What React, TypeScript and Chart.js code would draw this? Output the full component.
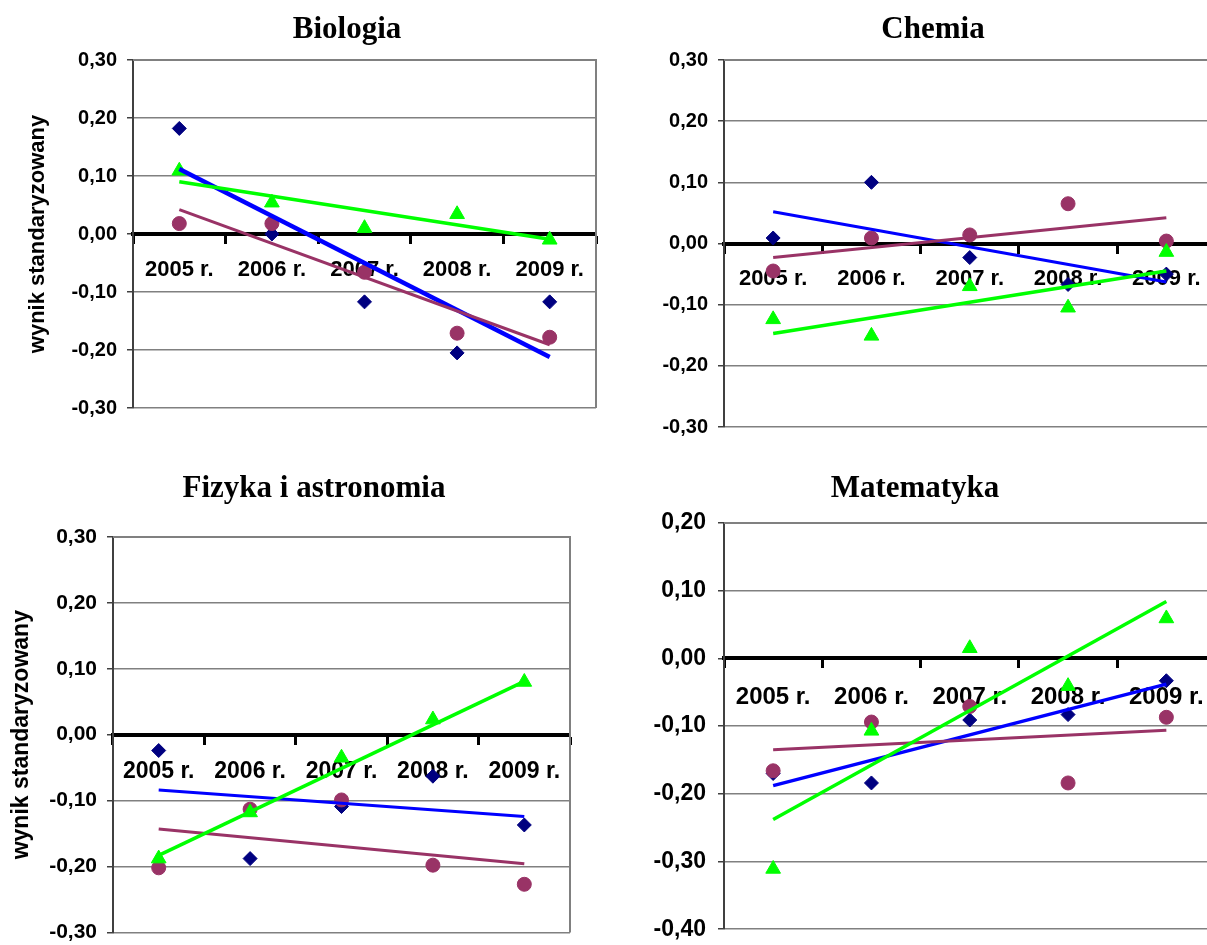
import React, { useEffect, useRef } from 'react';
import { Chart, registerables } from 'chart.js';

Chart.register(...registerables);

// ---------- data ----------
const years = ['2005 r.', '2006 r.', '2007 r.', '2008 r.', '2009 r.'];
const yAxisTitle = 'wynik standaryzowany';

// Biologia
const bioNavy = [0.182, 0.0, -0.117, -0.205, -0.117];
const bioPurple = [0.018, 0.018, -0.066, -0.171, -0.178];
const bioGreen = [0.109, 0.054, 0.01, 0.034, -0.01];
const bioTrendBlue = [0.112, -0.212]; // 2005, 2009
const bioTrendPurple = [0.042, -0.191];
const bioTrendGreen = [0.09, -0.009];

// Chemia
const chemNavy = [0.009, 0.1, -0.023, -0.067, -0.05];
const chemPurple = [-0.045, 0.009, 0.014, 0.065, 0.004];
const chemGreen = [-0.124, -0.151, -0.07, -0.105, -0.014];
const chemTrendBlue = [0.052, -0.063];
const chemTrendPurple = [-0.023, 0.042];
const chemTrendGreen = [-0.147, -0.045];

// Fizyka i astronomia
const fizNavy = [-0.024, -0.188, -0.109, -0.063, -0.137];
const fizPurple = [-0.202, -0.113, -0.099, -0.198, -0.227];
const fizGreen = [-0.188, -0.118, -0.035, 0.023, 0.08];
const fizTrendBlue = [-0.084, -0.124];
const fizTrendPurple = [-0.143, -0.196];
const fizTrendGreen = [-0.183, 0.081];

// Matematyka
const matNavy = [-0.17, -0.184, -0.091, -0.083, -0.033];
const matPurple = [-0.166, -0.094, -0.071, -0.184, -0.087];
const matGreen = [-0.311, -0.107, 0.015, -0.041, 0.059];
const matTrendBlue = [-0.188, -0.038];
const matTrendPurple = [-0.135, -0.106];
const matTrendGreen = [-0.238, 0.084];

// ---------- styling ----------
const NAVY = '#000080';
const PURPLE = '#993366';
const GREEN = '#00FF00';
const BLUE = '#0000FF';
const SANS = "'Liberation Sans', Arial, sans-serif";
const SERIF = "'Liberation Serif', 'Times New Roman', serif";

const fmt = (v: any) => {
  const n = Number(v);
  const r = Math.abs(n) < 1e-9 ? 0 : n;
  return r.toFixed(2).replace('.', ',');
};

const trend = (t: number[]) => [t[0], null, null, null, t[1]];

const titlePlugin = {
  id: 'panelTitle',
  afterDraw(chart: any, _args: any, opts: any) {
    if (!opts || !opts.text) return;
    const ctx = chart.ctx;
    ctx.save();
    ctx.font = `bold ${opts.size}px ${SERIF}`;
    ctx.fillStyle = '#000';
    ctx.textAlign = 'center';
    ctx.textBaseline = 'alphabetic';
    ctx.fillText(opts.text, opts.x, opts.y);
    ctx.restore();
  },
};

const framePlugin = {
  id: 'plotFrame',
  beforeDatasetsDraw(chart: any) {
    const { ctx, chartArea } = chart;
    ctx.save();
    ctx.strokeStyle = '#808080';
    ctx.lineWidth = 2;
    ctx.beginPath();
    ctx.moveTo(chartArea.left, chartArea.top);
    ctx.lineTo(chartArea.right, chartArea.top);
    ctx.lineTo(chartArea.right, chartArea.bottom);
    ctx.stroke();
    ctx.restore();
  },
};

interface PanelProps {
  title: string;
  titleX: number;
  titleY: number;
  navy: number[];
  purple: number[];
  green: number[];
  tBlue: number[];
  tPurple: number[];
  tGreen: number[];
  yMin: number;
  yMax: number;
  left: number;
  top: number;
  width: number;
  height: number;
  axisWidth: number;
  pad: { left: number; right: number; top: number; bottom: number };
  showYTitle: boolean;
  yTitleSize: number;
  yTitlePad: number;
  tickSize: number;
  xSize: number;
  xPad: number;
  yPad: number;
  blueWidth: number;
}

function Panel(p: PanelProps) {
  const ref = useRef<HTMLCanvasElement | null>(null);
  useEffect(() => {
    if (!ref.current) return;
    const chart = new Chart(ref.current, {
      type: 'line',
      data: {
        labels: years,
        datasets: [
          {
            label: 'trend green',
            data: trend(p.tGreen),
            borderColor: GREEN,
            borderWidth: 3.5,
            pointRadius: 0,
            spanGaps: true,
            fill: false,
            order: 0,
          },
          {
            label: 'trend purple',
            data: trend(p.tPurple),
            borderColor: PURPLE,
            borderWidth: 3,
            pointRadius: 0,
            spanGaps: true,
            fill: false,
            order: 1,
          },
          {
            label: 'trend blue',
            data: trend(p.tBlue),
            borderColor: BLUE,
            borderWidth: p.blueWidth,
            pointRadius: 0,
            spanGaps: true,
            fill: false,
            order: 2,
          },
          {
            label: 'green',
            data: p.green,
            showLine: false,
            pointStyle: 'triangle',
            pointRadius: 8.5,
            pointBackgroundColor: GREEN,
            pointBorderColor: GREEN,
            pointBorderWidth: 1,
            order: 3,
          },
          {
            label: 'purple',
            data: p.purple,
            showLine: false,
            pointStyle: 'circle',
            pointRadius: 7,
            pointBackgroundColor: PURPLE,
            pointBorderColor: PURPLE,
            pointBorderWidth: 1,
            order: 4,
          },
          {
            label: 'navy',
            data: p.navy,
            showLine: false,
            pointStyle: 'rectRot',
            pointRadius: 7,
            pointBackgroundColor: NAVY,
            pointBorderColor: NAVY,
            pointBorderWidth: 1,
            order: 5,
          },
        ] as any,
      },
      options: {
        responsive: false,
        maintainAspectRatio: false,
        animation: false,
        events: [],
        layout: { padding: p.pad },
        plugins: {
          legend: { display: false },
          tooltip: { enabled: false },
          title: { display: false },
          panelTitle: { text: p.title, x: p.titleX, y: p.titleY, size: 31 },
        } as any,
        scales: {
          x: {
            type: 'category',
            position: { y: 0 } as any,
            offset: true,
            z: 1,
            grid: {
              display: true,
              drawOnChartArea: false,
              drawTicks: true,
              tickLength: 8,
              tickWidth: 3,
              tickColor: '#000',
              offset: true,
            },
            border: { display: true, color: '#000', width: 4 },
            ticks: {
              color: '#000',
              font: { family: SANS, weight: 'bold', size: p.xSize },
              padding: p.xPad,
              maxRotation: 0,
              autoSkip: false,
            },
          },
          y: {
            type: 'linear',
            position: 'left',
            min: p.yMin,
            max: p.yMax,
            grid: {
              color: '#808080',
              lineWidth: 1.5,
              drawTicks: true,
              tickLength: 6,
              tickColor: '#404040',
              tickWidth: 1.5,
            },
            border: { display: true, color: '#404040', width: 2 },
            ticks: {
              stepSize: 0.1,
              color: '#000',
              font: { family: SANS, weight: 'bold', size: p.tickSize },
              padding: p.yPad,
              callback: (v: any) => fmt(v),
            },
            title: {
              display: p.showYTitle,
              text: yAxisTitle,
              color: '#000',
              font: { family: SANS, weight: 'bold', size: p.yTitleSize },
              padding: { top: p.yTitlePad, bottom: 0 },
            },
            afterFit: (s: any) => {
              s.width = p.axisWidth;
            },
          },
        } as any,
      },
      plugins: [titlePlugin, framePlugin],
    });
    return () => chart.destroy();
  }, []);
  return (
    <canvas
      ref={ref}
      width={p.width}
      height={p.height}
      style={{
        position: 'absolute',
        left: p.left,
        top: p.top,
        width: p.width,
        height: p.height,
      }}
    />
  );
}

export default function App() {
  return (
    <div
      style={{
        position: 'fixed',
        left: 0,
        top: 0,
        width: 1207,
        height: 945,
        overflow: 'hidden',
        background: '#fff',
      }}
    >
      <Panel
        title="Biologia"
        titleX={347}
        titleY={38}
        navy={bioNavy}
        purple={bioPurple}
        green={bioGreen}
        tBlue={bioTrendBlue}
        tPurple={bioTrendPurple}
        tGreen={bioTrendGreen}
        yMin={-0.3}
        yMax={0.3}
        left={0}
        top={0}
        width={610}
        height={440}
        axisWidth={133}
        pad={{ left: 0, right: 14, top: 60, bottom: 32 }}
        showYTitle={true}
        yTitleSize={22}
        yTitlePad={25}
        tickSize={20}
        xSize={22}
        xPad={15}
        yPad={10}
        blueWidth={4.5}
      />
      <Panel
        title="Chemia"
        titleX={323}
        titleY={38}
        navy={chemNavy}
        purple={chemPurple}
        green={chemGreen}
        tBlue={chemTrendBlue}
        tPurple={chemTrendPurple}
        tGreen={chemTrendGreen}
        yMin={-0.3}
        yMax={0.3}
        left={610}
        top={0}
        width={620}
        height={450}
        axisWidth={114}
        pad={{ left: 0, right: 14.5, top: 60, bottom: 23 }}
        showYTitle={false}
        yTitleSize={22}
        yTitlePad={0}
        tickSize={20}
        xSize={22}
        xPad={14}
        yPad={10}
        blueWidth={3}
      />
      <Panel
        title="Fizyka i astronomia"
        titleX={314}
        titleY={42}
        navy={fizNavy}
        purple={fizPurple}
        green={fizGreen}
        tBlue={fizTrendBlue}
        tPurple={fizTrendPurple}
        tGreen={fizTrendGreen}
        yMin={-0.3}
        yMax={0.3}
        left={0}
        top={455}
        width={600}
        height={500}
        axisWidth={113}
        pad={{ left: 0, right: 30, top: 82, bottom: 20 }}
        showYTitle={true}
        yTitleSize={23}
        yTitlePad={8.2}
        tickSize={21}
        xSize={23}
        xPad={15}
        yPad={10}
        blueWidth={3}
      />
      <Panel
        title="Matematyka"
        titleX={305}
        titleY={42}
        navy={matNavy}
        purple={matPurple}
        green={matGreen}
        tBlue={matTrendBlue}
        tPurple={matTrendPurple}
        tGreen={matTrendGreen}
        yMin={-0.4}
        yMax={0.2}
        left={610}
        top={455}
        width={620}
        height={500}
        axisWidth={114}
        pad={{ left: 0, right: 14.5, top: 68, bottom: 22 }}
        showYTitle={false}
        yTitleSize={22}
        yTitlePad={0}
        tickSize={23}
        xSize={24}
        xPad={17}
        yPad={12}
        blueWidth={3.5}
      />
    </div>
  );
}
